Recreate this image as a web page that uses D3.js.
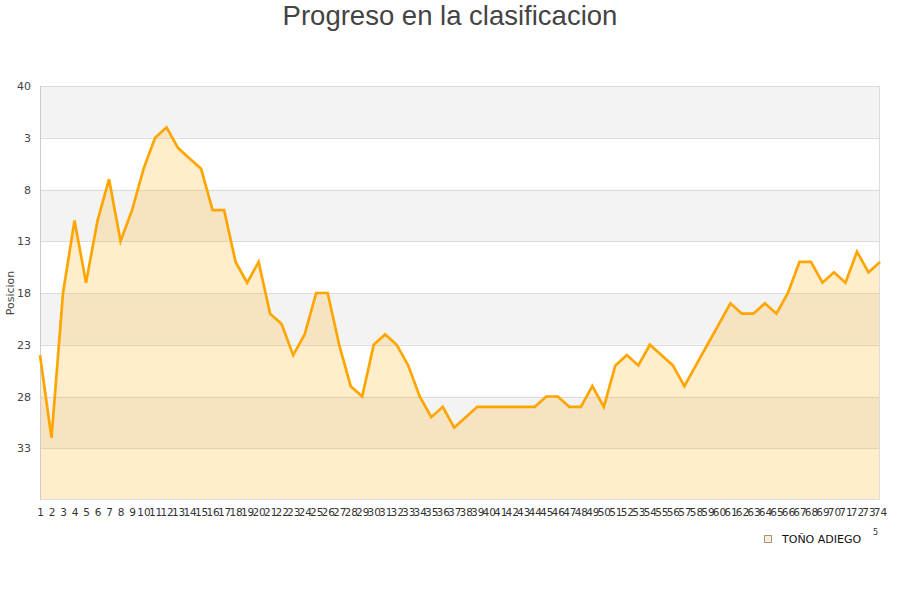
<!DOCTYPE html>
<html>
<head>
<meta charset="utf-8">
<script src="https://cdn.jsdelivr.net/npm/d3@7"></script>
<style>
  body { margin: 0; background: #fff; }
  svg { display: block; }
</style>
</head>
<body>
<svg id="chart" width="900" height="600"></svg>
<script>
const title = "Progreso en la clasificacion";
const yAxisTitle = "Posicion";
const seriesName = "TOÑO ADIEGO";
const jornadas = d3.range(1, 75);
const positions = [24, 32, 18, 11, 17, 11, 7, 13, 10, 6,
                   3, 2, 4, 5, 6, 10, 10, 15, 17, 15,
                   20, 21, 24, 22, 18, 18, 23, 27, 28, 23,
                   22, 23, 25, 28, 30, 29, 31, 30, 29, 29,
                   29, 29, 29, 29, 28, 28, 29, 29, 27, 29,
                   25, 24, 25, 23, 24, 25, 27, 25, 23, 21,
                   19, 20, 20, 19, 20, 18, 15, 15, 17, 16,
                   17, 14, 16, 15];
const yTickValues = [-2, 3, 8, 13, 18, 23, 28, 33];
const yTickLabels = ["40", "3", "8", "13", "18", "23", "28", "33"];
const yDomain = [-2, 38];

const svg = d3.select("#chart");
const m = { left: 40, right: 20, top: 86, bottom: 100 };
const W = 900, H = 600;
const x = d3.scaleLinear().domain([1, 74]).range([m.left, W - m.right]);
const y = d3.scaleLinear().domain(yDomain).range([m.top, H - m.bottom]);

// bands
const bandEdges = yTickValues.concat([yDomain[1]]);
for (let i = 0; i < bandEdges.length - 1; i++) {
  svg.append("rect")
    .attr("x", x(1)).attr("width", x(74) - x(1))
    .attr("y", y(bandEdges[i])).attr("height", y(bandEdges[i + 1]) - y(bandEdges[i]))
    .attr("fill", i % 2 === 0 ? "#f3f3f3" : "#ffffff");
}
// grid lines
svg.append("g").selectAll("line").data(yTickValues.slice(1)).join("line")
  .attr("x1", x(1)).attr("x2", x(74))
  .attr("y1", d => Math.round(y(d)) + 0.5).attr("y2", d => Math.round(y(d)) + 0.5)
  .attr("stroke", "#dcdcdc").attr("stroke-width", 1);

const data = jornadas.map((j, i) => ({ j, p: positions[i] }));

// area
const area = d3.area().x(d => x(d.j)).y0(y(yDomain[1])).y1(d => y(d.p));
svg.append("path").datum(data).attr("d", area)
  .attr("fill", "orange").attr("fill-opacity", 0.2);

// border
svg.append("rect")
  .attr("x", x(1) + 0.5).attr("y", y(yDomain[0]) + 0.5)
  .attr("width", x(74) - x(1) - 1).attr("height", y(yDomain[1]) - y(yDomain[0]) - 1)
  .attr("fill", "none").attr("stroke", "#dcdcdc");
svg.append("line").attr("x1", x(1) + 0.5).attr("x2", x(1) + 0.5)
  .attr("y1", y(yDomain[0])).attr("y2", y(yDomain[1]))
  .attr("stroke", "#cccccc");

// line
const line = d3.line().x(d => x(d.j)).y(d => y(d.p));
svg.append("path").datum(data).attr("d", line)
  .attr("fill", "none").attr("stroke", "#ffa500").attr("stroke-width", 2.7)
  .attr("stroke-linejoin", "miter");

// y axis
const yAxis = d3.axisLeft(y).tickValues(yTickValues)
  .tickFormat((d, i) => yTickLabels[i]).tickSize(0).tickPadding(9);
const gy = svg.append("g").attr("transform", `translate(${m.left},0)`).call(yAxis);
gy.select(".domain").remove();
gy.selectAll("text").attr("font-family", "DejaVu Sans").attr("font-size", 11).attr("fill", "#444");

// x axis
const xAxis = d3.axisBottom(x).tickValues(jornadas).tickFormat(d3.format("d")).tickSize(0).tickPadding(9);
const gx = svg.append("g").attr("transform", `translate(0,${y(yDomain[1])})`).call(xAxis);
gx.select(".domain").remove();
gx.selectAll("text").attr("font-family", "DejaVu Sans").attr("font-size", 10.5).attr("fill", "#333");

// y title
svg.append("text").attr("transform", "translate(14,293) rotate(-90)")
  .attr("text-anchor", "middle").attr("font-family", "DejaVu Sans").attr("font-size", 11)
  .attr("fill", "#444").text(yAxisTitle);

// title
svg.append("text").attr("x", 450).attr("y", 25).attr("text-anchor", "middle")
  .attr("font-family", "Liberation Sans, Arial, sans-serif").attr("font-size", 27.5)
  .attr("fill", "#444").text(title);

// legend
svg.append("rect").attr("x", 764.5).attr("y", 535.5).attr("width", 7).attr("height", 7)
  .attr("fill", "#ffedcc").attr("stroke", "#999");
svg.append("text").attr("x", 782).attr("y", 543).attr("font-family", "DejaVu Sans")
  .attr("font-size", 11).attr("fill", "#111").text(seriesName);
svg.append("text").attr("x", 873).attr("y", 535).attr("font-family", "DejaVu Sans")
  .attr("font-size", 8).attr("fill", "#333").text("5");
</script>
</body>
</html>
